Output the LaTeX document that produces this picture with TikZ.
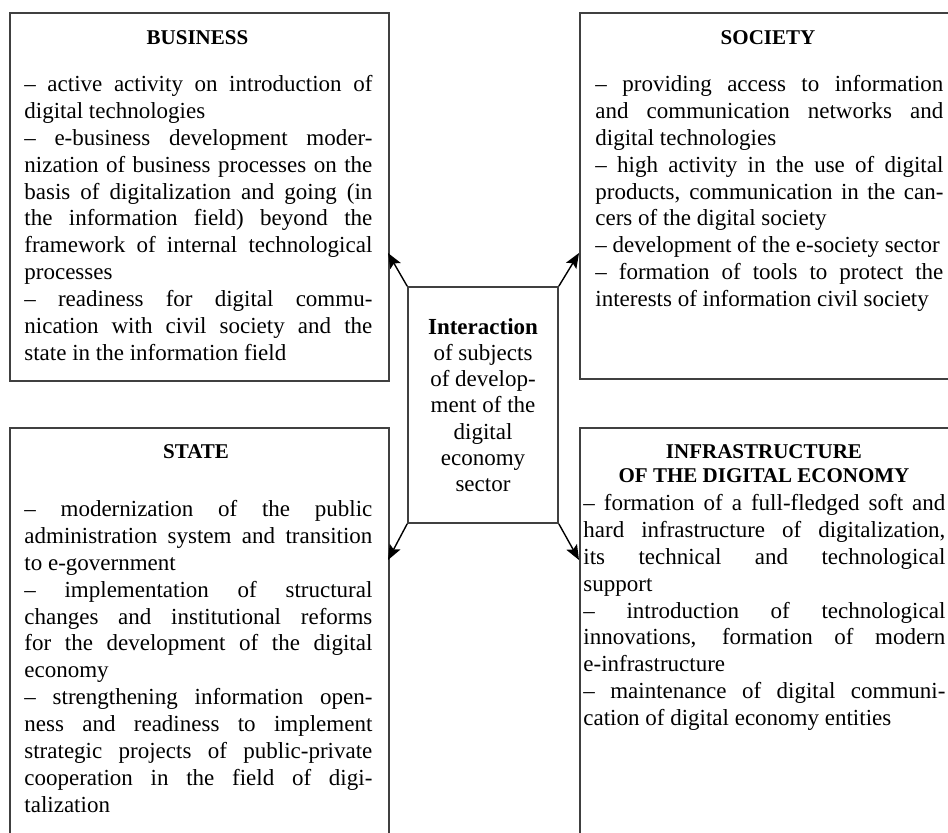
\documentclass[tikz,border=0pt]{standalone}
\usepackage{fontspec}
\setmainfont{Liberation Serif}
\usetikzlibrary{positioning, arrows.meta}
\setlength{\parindent}{0pt}
\tolerance=10000
\hbadness=10000
\hyphenpenalty=10000
\exhyphenpenalty=10000

\begin{document}
\begin{tikzpicture}[x=0.5pt, y=-0.5pt, >={Stealth[length=7.5pt, width=6pt, inset=1.5pt]}]
        \tikzstyle{panel} = [rectangle, draw=black!75, line width=0.8pt, inner sep=0pt, anchor=north west, minimum width=189.5pt]
        \tikzstyle{head} = [font=\fontsize{10.5}{12}\selectfont\bfseries, align=center, anchor=north, inner sep=0pt]
        \tikzstyle{body} = [text width=174pt, align=justify, inner sep=0pt, anchor=north west, font=\fontsize{11.5}{13.45}\selectfont]
        \tikzstyle{hub} = [rectangle, draw=black!75, line width=0.8pt, minimum width=75pt, minimum height=118pt, inner sep=0pt, align=center, font=\fontsize{11.5}{13.1}\selectfont]
        \tikzstyle{arrow} = [line width=0.7pt, ->]

        \useasboundingbox (0,0) rectangle (948,833);
        \clip (0,0) rectangle (948,833);

        % Frames
        \node (business) [panel, minimum height=184pt] at (9,12) {};
        \node (society) [panel, minimum height=183pt] at (579,12) {};
        \node (state) [panel, minimum height=220pt] at (9,427) {};
        \node (infra) [panel, minimum height=220pt] at (579,427) {};

        % Centre
        \node (hub) [hub] at (483,405) {\textbf{Interaction}\\of subjects\\of develop-\\ment of the\\digital\\economy\\sector};

        % Headings
        \node (bizhead) [head] at (197.5,27.2) {\strut BUSINESS};
        \node (sochead) [head] at (768,27.2) {\strut SOCIETY};
        \node (statehead) [head] at (196,441.2) {\strut STATE};
        \node (infrahead) [head] at (764,441.2) {\strut INFRASTRUCTURE\\OF THE DIGITAL ECONOMY};

        % Lists
        \node (biztext) [body] at (24,72.2) {\strut
            -- active activity on introduction of\linebreak digital technologies\par
            -- e-business development moder-\linebreak nization of business processes on the\linebreak basis of digitalization and going (in\linebreak the information field) beyond the\linebreak framework of internal technological\linebreak processes\par
            -- readiness for digital commu-\linebreak nication with civil society and the\linebreak state in the information field};
        \node (soctext) [body] at (595,72.2) {\strut
            -- providing access to information\linebreak and communication networks and\linebreak digital technologies\par
            -- high activity in the use of digital\linebreak products, communication in the can-\linebreak cers of the digital society\par
            -- development of the e-society sector\par
            -- formation of tools to protect the\linebreak interests of information civil society};
        \node (statetext) [body] at (24,497.2) {\strut
            -- modernization of the public\linebreak administration system and transition\linebreak to e-government\par
            -- implementation of structural\linebreak changes and institutional reforms\linebreak for the development of the digital\linebreak economy\par
            -- strengthening information open-\linebreak ness and readiness to implement\linebreak strategic projects of public-private\linebreak cooperation in the field of digi-\linebreak talization};
        \node (infratext) [body, text width=181pt] at (583,491.2) {\strut
            -- formation of a full-fledged soft and\linebreak hard infrastructure of digitalization,\linebreak its technical and technological\linebreak support\par
            -- introduction of technological\linebreak innovations, formation of modern\linebreak e-infrastructure\par
            -- maintenance of digital communi-\linebreak cation of digital economy entities};

        % Arrow ends on the frames
        \coordinate (bizin) at (388,253);
        \coordinate (socin) at (579,253);
        \coordinate (statein) at (388,560);
        \coordinate (infrain) at (579,560);

        % Arrows
        \draw [arrow] (hub.north west) -- (bizin);
        \draw [arrow] (hub.north east) -- (socin);
        \draw [arrow] (hub.south west) -- (statein);
        \draw [arrow] (hub.south east) -- (infrain);
    \end{tikzpicture}
\end{document}
